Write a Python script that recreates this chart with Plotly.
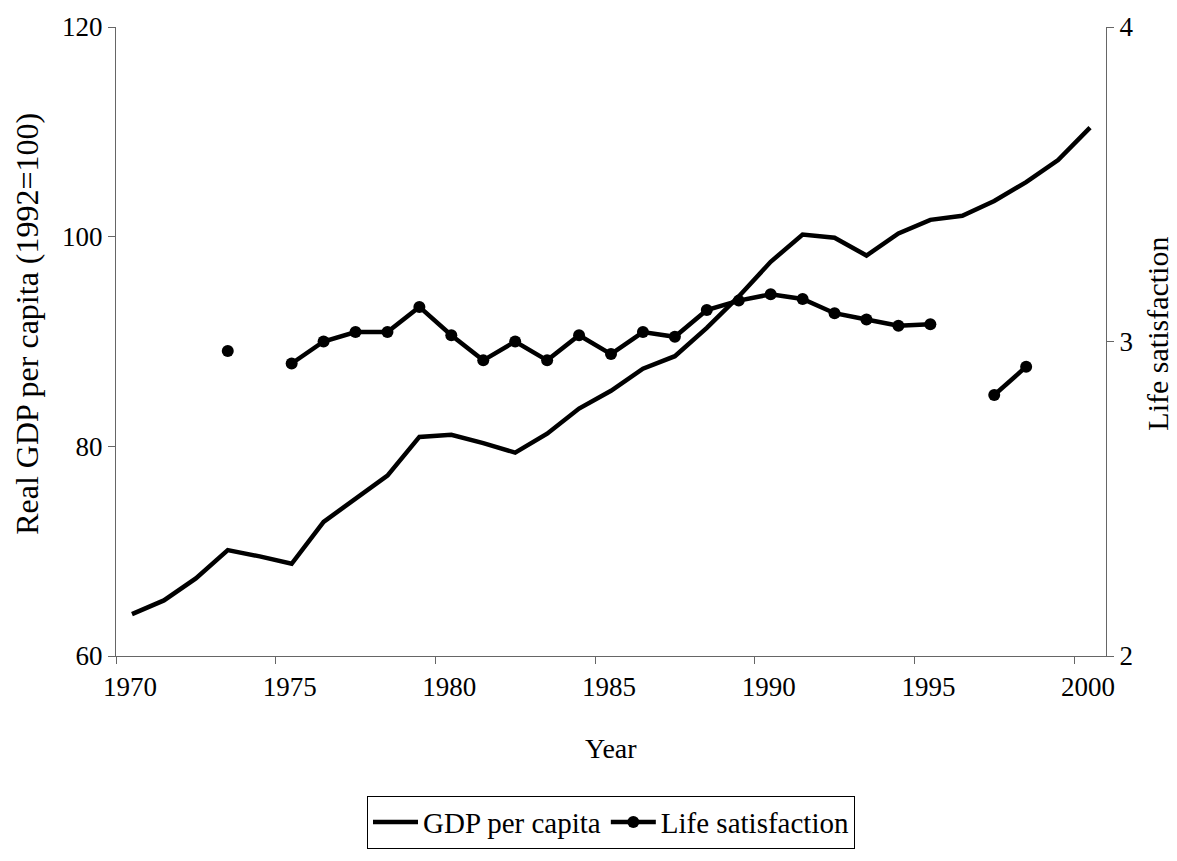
import plotly.graph_objects as go

years = list(range(1970, 2001))
gdp_per_capita = [64.0, 65.3, 67.4, 70.1, 69.5, 68.8, 72.8, 75.0, 77.2, 80.9,
                  81.1, 80.3, 79.4, 81.2, 83.6, 85.3, 87.4, 88.6, 91.3, 94.3,
                  97.6, 100.2, 99.9, 98.2, 100.3, 101.6, 102.0, 103.4, 105.2, 107.3,
                  110.4]
life_satisfaction = [None, None, None, 2.97, None, 2.93, 3.00, 3.03, 3.03, 3.11,
                     3.02, 2.94, 3.00, 2.94, 3.02, 2.96, 3.03, 3.015, 3.10, 3.13,
                     3.15, 3.135, 3.09, 3.07, 3.05, 3.055, None, 2.83, 2.92, None,
                     None]
x_tick_labels = ["1970", "1975", "1980", "1985", "1990", "1995", "2000"]
x_tick_positions = [int(t) - 0.5 for t in x_tick_labels]

FONT = "Liberation Serif, Times New Roman, serif"

fig = go.Figure()
fig.add_trace(go.Scatter(
    x=years, y=gdp_per_capita, name="GDP per capita", mode="lines",
    line=dict(color="black", width=4.5), yaxis="y"))
fig.add_trace(go.Scatter(
    x=years, y=life_satisfaction, name="Life satisfaction", mode="lines+markers",
    line=dict(color="black", width=4.5), marker=dict(color="black", size=12, symbol="circle"),
    connectgaps=False, yaxis="y2"))

axis_common = dict(showgrid=False, zeroline=False, showline=True, linecolor="#666666",
                   linewidth=1, ticks="outside", ticklen=7, tickcolor="#666666",
                   automargin=False,
                   tickfont=dict(family=FONT, size=27, color="black"))

fig.update_layout(
    width=1177, height=861,
    margin=dict(l=116, r=71, t=27, b=192),
    plot_bgcolor="white", paper_bgcolor="white",
    font=dict(family=FONT, size=27, color="black"),
    showlegend=True,
    legend=dict(orientation="h", x=0.5, xanchor="center", y=-0.222, yanchor="top",
                bordercolor="black", borderwidth=1, font=dict(family=FONT, size=29),
                itemwidth=45, tracegroupgap=0),
    xaxis=dict(range=[1969.5, 2000.5], tickvals=x_tick_positions, ticktext=x_tick_labels,
               ticklabelshift=14, **axis_common),
    yaxis=dict(range=[60, 120], dtick=20, tick0=60, **axis_common),
    yaxis2=dict(range=[2, 4], dtick=1, tick0=2, overlaying="y", side="right", **axis_common),
    annotations=[
        dict(text="Year", xref="paper", yref="paper", x=0.5, y=-0.1464,
             xanchor="center", yanchor="middle", showarrow=False,
             font=dict(family=FONT, size=28, color="black")),
        dict(text="Real GDP per capita (1992=100)", xref="paper", yref="paper",
             x=(27 - 116) / 990, y=(669 - 330) / 642, textangle=-90,
             xanchor="center", yanchor="middle", showarrow=False,
             font=dict(family=FONT, size=32, color="black")),
        dict(text="Life satisfaction", xref="paper", yref="paper",
             x=(1158 - 116) / 990, y=(669 - 340) / 642, textangle=-90,
             xanchor="center", yanchor="middle", showarrow=False,
             font=dict(family=FONT, size=30, color="black")),
    ],
)

fig.write_html(
    "out.html",
    config={"responsive": False, "displayModeBar": False},
    post_script=(
        "var b=document.body;"
        "b.style.margin='0';b.style.padding='0';b.style.overflow='hidden';"
    ),
)
